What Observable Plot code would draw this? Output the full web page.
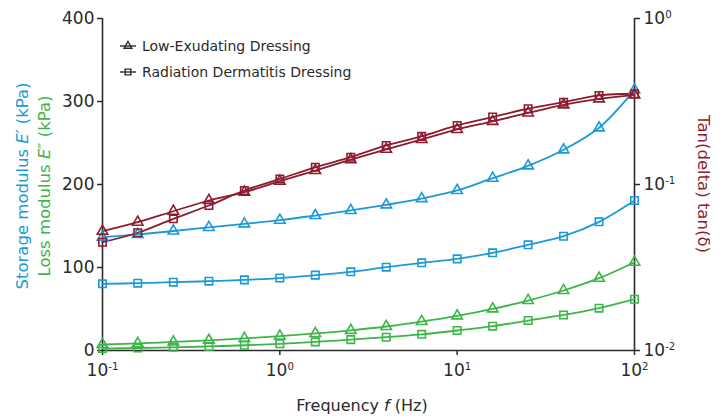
<!DOCTYPE html>
<html><head><meta charset="utf-8">
<script src="https://cdn.jsdelivr.net/npm/d3@7"></script>
<script src="https://cdn.jsdelivr.net/npm/@observablehq/plot@0.6"></script>
<style>
body{margin:0;background:#fff}
#chart svg{font-family:"DejaVu Sans",Lato,sans-serif;overflow:visible}
</style>
</head><body><div id="chart"></div>
<script>
const freq = [0.1, 0.158, 0.251, 0.398, 0.631, 1, 1.585, 2.512, 3.981, 6.31, 10, 15.85, 25.12, 39.81, 63.1, 100];
const lowStorage = [136.5, 139.8, 144, 148.3, 152.6, 157, 162.6, 168.7, 175.5, 183, 192.8, 207.6, 222.5, 241.8, 268.3, 314];
const radStorage = [80.3, 81.1, 82.3, 83.5, 85.1, 87.3, 90.8, 94.8, 100.4, 105.6, 110.4, 117.7, 127.3, 137.7, 155, 180.7];
const lowLoss = [7.2, 8.5, 10.3, 12.3, 14.6, 17.4, 20.6, 24.3, 28.9, 34.9, 41.8, 50.2, 60.2, 72.3, 87.1, 106.4];
const radLoss = [2.3, 3.0, 3.8, 4.9, 6.3, 8.1, 10.4, 13.1, 16, 19.5, 24.1, 29.3, 36.1, 42.8, 51, 61.8];
const lowTan = [0.0523, 0.0593, 0.069, 0.0801, 0.0899, 0.1047, 0.1214, 0.141, 0.163, 0.1867, 0.2146, 0.24, 0.27, 0.302, 0.328, 0.347];
const radTan = [0.0449, 0.0512, 0.0621, 0.0747, 0.092, 0.108, 0.127, 0.146, 0.172, 0.195, 0.227, 0.255, 0.286, 0.313, 0.344, 0.352];
const xTicks = [0.1, 1, 10, 100];
const yTicks = [0, 100, 200, 300, 400];
const tanTicks = [0.01, 0.1, 1];
const legendLabels = ["Low-Exudating Dressing", "Radiation Dermatitis Dressing"];

const BLUE = "#1b9ad7", GREEN = "#3db549", RED = "#8c1c2f", INK = "#2a2a2a";
// map tan(delta) (log axis 0.01..1) onto the left linear 0..400 scale
const tanToY = v => 200 * (Math.log10(v) + 2);

const series = [
  {key: "lowS", vals: lowStorage, color: BLUE, sym: "triangle", tan: false},
  {key: "radS", vals: radStorage, color: BLUE, sym: "square", tan: false},
  {key: "lowL", vals: lowLoss, color: GREEN, sym: "triangle", tan: false},
  {key: "radL", vals: radLoss, color: GREEN, sym: "square", tan: false},
  {key: "lowT", vals: lowTan, color: RED, sym: "triangle", tan: true},
  {key: "radT", vals: radTan, color: RED, sym: "square", tan: true}
];
const rows = series.flatMap(s => s.vals.map((v, i) => ({key: s.key, f: freq[i], y: s.tan ? tanToY(v) : v, color: s.color, sym: s.sym})));
const tri = rows.filter(d => d.sym === "triangle");
const sq = rows.filter(d => d.sym === "square");

const sup = d => "10^" + Math.round(Math.log10(d));

const chart = Plot.plot({
  width: 723, height: 419,
  marginLeft: 102, marginRight: 89, marginTop: 18, marginBottom: 69,
  style: {fontSize: "17px", color: INK},
  x: {type: "log", domain: [0.1, 100]},
  y: {domain: [0, 400]},
  color: {type: "identity"},
  marks: [
    Plot.axisX(xTicks, {tickFormat: sup, tickSize: 5, tickPadding: 8, label: null, stroke: INK, strokeWidth: 1.5}),
    Plot.axisY(yTicks, {anchor: "left", tickSize: 5, tickPadding: 3, label: null, stroke: INK, strokeWidth: 1.5}),
    Plot.axisY(tanTicks.map(tanToY), {anchor: "right", tickSize: 5, tickPadding: 4, label: null, stroke: INK, strokeWidth: 1.5,
      tickFormat: d => "10^" + Math.round(d / 200 - 2)}),
    Plot.ruleX([0.1], {stroke: INK, strokeWidth: 1.6}),
    Plot.ruleX([100], {stroke: INK, strokeWidth: 1.6}),
    Plot.ruleY([0], {stroke: INK, strokeWidth: 1.6}),
    Plot.line(rows, {x: "f", y: "y", z: "key", stroke: "color", strokeWidth: 1.8, curve: "catmull-rom"}),
    Plot.dot(tri, {x: "f", y: "y", stroke: "color", symbol: "triangle", r: 3.9, strokeWidth: 1.6, fill: "none"}),
    Plot.dot(sq, {x: "f", y: "y", stroke: "color", symbol: "square", r: 4.2, strokeWidth: 1.6, fill: "none"})
  ]
});

document.getElementById("chart").appendChild(chart);
const svg = d3.select(chart);

// superscript tick labels
chart.querySelectorAll("text").forEach(t => {
  const s = t.textContent;
  if (s.includes("^")) {
    const [b, e] = s.split("^");
    const sel = d3.select(t);
    sel.text(null);
    sel.append("tspan").text(b);
    sel.append("tspan").attr("dy", "-0.55em").attr("font-size", "0.6em").text(e);
  }
});

// legend
const lg = svg.append("g").attr("font-size", 14).attr("fill", INK).attr("text-anchor", "start");
const symT = d3.symbol(d3.symbolTriangle, Math.PI * 3.9 * 3.9 * 0.55);
const symS = d3.symbol(d3.symbolSquare, Math.PI * 4.2 * 4.2 * 0.6);
[[symT, 46], [symS, 72]].forEach(([s, y], i) => {
  lg.append("line").attr("x1", 120).attr("x2", 136).attr("y1", y).attr("y2", y).attr("stroke", INK).attr("stroke-width", 1.4);
  lg.append("path").attr("d", s()).attr("transform", `translate(128,${y})`).attr("fill", "none").attr("stroke", INK).attr("stroke-width", 1.4);
  lg.append("text").attr("x", 142).attr("y", y + 5).attr("text-anchor", "start").text(legendLabels[i]);
});

// axis titles
const t1 = svg.append("text").attr("transform", "translate(28,186) rotate(-90)").attr("text-anchor", "middle").attr("fill", BLUE).attr("font-size", 16.5);
t1.append("tspan").text("Storage modulus ");
t1.append("tspan").attr("font-style", "italic").text("E′");
t1.append("tspan").text(" (kPa)");
const t2 = svg.append("text").attr("transform", "translate(50,186) rotate(-90)").attr("text-anchor", "middle").attr("fill", GREEN).attr("font-size", 16.5);
t2.append("tspan").text("Loss modulus ");
t2.append("tspan").attr("font-style", "italic").text("E″");
t2.append("tspan").text(" (kPa)");
svg.append("text").attr("transform", "translate(698,184) rotate(90)").attr("text-anchor", "middle").attr("fill", RED).attr("font-size", 16.5).text("Tan(delta) tan(δ)");
const tx = svg.append("text").attr("x", 362).attr("y", 411).attr("text-anchor", "middle").attr("fill", INK).attr("font-size", 16);
tx.append("tspan").text("Frequency ");
tx.append("tspan").attr("font-style", "italic").text("f");
tx.append("tspan").text(" (Hz)");
</script>
</body></html>
